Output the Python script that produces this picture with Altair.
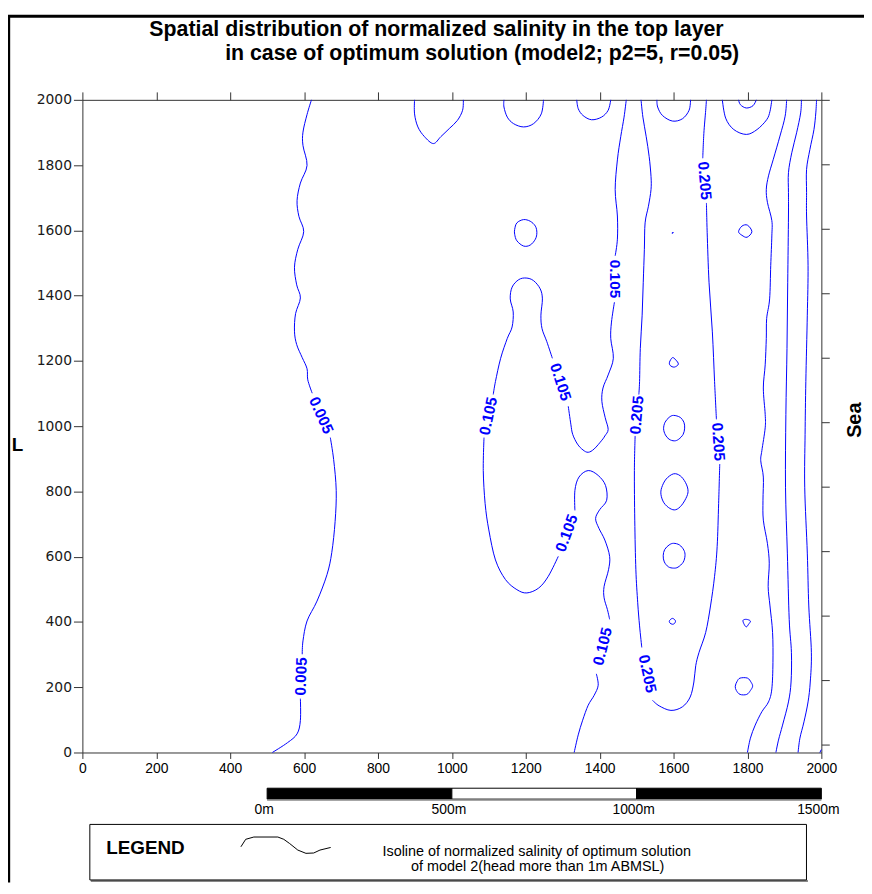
import altair as alt
import pandas as pd

# ---------------- axis ticks ----------------
x_ticks = [0, 200, 400, 600, 800, 1000, 1200, 1400, 1600, 1800, 2000]
y_ticks = [0, 200, 400, 600, 800, 1000, 1200, 1400, 1600, 1800, 2000]
right_ticks = [25, 223, 420, 618, 815, 1013, 1210, 1408, 1605, 1803, 2000]

# ---------------- isolines (open) ----------------
iso_0005_a = [(620, 2000), (608, 1955), (597, 1901), (597, 1860), (608, 1799), (590, 1745), (581, 1691),
              (586, 1643), (599, 1596), (583, 1542), (574, 1487), (580, 1433), (590, 1393), (577, 1345),
              (574, 1291), (580, 1250), (595, 1210), (608, 1176), (610, 1142), (622, 1101)]
iso_0005_b = [(671, 965), (680, 898), (687, 803), (684, 708), (675, 613), (662, 545), (635, 464),
              (608, 403), (597, 342), (595, 301)]
iso_0005_c = [(590, 165), (590, 98), (581, 57), (555, 30), (514, 0)]

iso_0105_a = [(1472, 2000), (1466, 1947), (1457, 1887), (1448, 1816), (1442, 1725), (1448, 1644),
              (1448, 1573), (1442, 1522)]
iso_0105_b = [(1440, 1380), (1432, 1319), (1430, 1269), (1437, 1208), (1423, 1157), (1409, 1117),
              (1406, 1076), (1415, 1026), (1423, 990), (1414, 970), (1406, 957), (1385, 930),
              (1369, 920), (1355, 927), (1340, 945), (1327, 975), (1322, 1006), (1315, 1061)]
iso_0105_c = [(1272, 1208), (1257, 1259), (1244, 1299), (1241, 1340), (1245, 1390), (1239, 1421),
              (1221, 1446), (1201, 1454), (1181, 1449), (1163, 1426), (1158, 1390), (1166, 1350),
              (1163, 1304), (1150, 1269), (1132, 1208), (1118, 1137), (1112, 1097)]
iso_0105_d = [(1087, 965), (1085, 864), (1090, 763), (1100, 682), (1118, 590), (1145, 530),
              (1176, 499), (1203, 489), (1235, 504), (1261, 540), (1288, 601)]
iso_0105_e = [(1333, 742), (1333, 803), (1344, 844), (1369, 864), (1396, 849), (1416, 818),
              (1419, 773), (1400, 744), (1389, 717), (1398, 687), (1414, 651), (1427, 601),
              (1424, 560), (1412, 509), (1412, 474), (1421, 438), (1427, 408)]
iso_0105_f = [(1391, 241), (1396, 206), (1385, 175), (1369, 145), (1354, 99), (1342, 54), (1331, 0)]

iso_0205_a = [(1512, 2000), (1517, 1947), (1526, 1887), (1534, 1826), (1539, 1765), (1539, 1725),
              (1532, 1674), (1523, 1623), (1521, 1542), (1518, 1441), (1515, 1340), (1510, 1238),
              (1508, 1137), (1506, 1097)]
iso_0205_b = [(1496, 970), (1494, 864), (1495, 712), (1498, 560), (1503, 459), (1508, 388), (1514, 322)]
iso_0205_c = [(1543, 160), (1561, 143), (1593, 129), (1624, 140), (1645, 170), (1655, 216),
              (1660, 266), (1669, 307), (1687, 368), (1700, 449), (1711, 540), (1718, 631),
              (1722, 763), (1725, 884)]
iso_0205_d = [(1716, 1021), (1711, 1137), (1705, 1289), (1696, 1441), (1691, 1593), (1689, 1684)]
iso_0205_e = [(1679, 1821), (1682, 1897), (1687, 1968), (1689, 2000)]

lobe_950 = [(899, 2000), (899, 1957), (908, 1917), (926, 1887), (950, 1866), (970, 1887),
            (993, 1912), (1015, 1937), (1029, 1968), (1031, 2000)]
lobe_1200 = [(1141, 2000), (1141, 1978), (1150, 1947), (1167, 1927), (1194, 1917), (1221, 1927),
             (1242, 1957), (1248, 2000)]
lobe_1400 = [(1338, 2000), (1342, 1973), (1355, 1952), (1378, 1939), (1405, 1947), (1423, 1968),
             (1430, 2000)]
lobe_1600 = [(1555, 2000), (1557, 1978), (1570, 1952), (1597, 1935), (1624, 1942), (1642, 1968),
             (1646, 2000)]
lobe_1800_small = [(1776, 2000), (1781, 1985), (1797, 1975), (1815, 1982), (1824, 2000)]
lobe_1800 = [(1732, 2000), (1741, 1944), (1763, 1909), (1797, 1894), (1826, 1909), (1852, 1939),
             (1861, 1965), (1866, 2000)]

east_1 = [(1906, 2000), (1902, 1950), (1888, 1889), (1870, 1818), (1857, 1767), (1851, 1726),
          (1854, 1686), (1866, 1630), (1866, 1583), (1863, 1492), (1860, 1390), (1852, 1330),
          (1851, 1269), (1848, 1188), (1843, 1117), (1848, 1036), (1848, 995), (1839, 925),
          (1836, 894), (1843, 844), (1842, 773), (1843, 712), (1854, 641), (1859, 580),
          (1856, 509), (1861, 449), (1868, 368), (1869, 276), (1866, 195), (1857, 155),
          (1839, 125), (1821, 84), (1808, 44), (1800, 0)]
east_2 = [(1946, 2000), (1944, 1960), (1933, 1899), (1920, 1838), (1911, 1777), (1911, 1716),
          (1911, 1644), (1909, 1441), (1907, 1238), (1904, 1036), (1903, 813), (1908, 611),
          (1913, 408), (1919, 307), (1918, 216), (1911, 155), (1895, 84), (1884, 38), (1877, 0)]
east_3 = [(1987, 2000), (1985, 1960), (1980, 1909), (1969, 1848), (1960, 1787), (1960, 1716),
          (1960, 1644), (1964, 1492), (1962, 1340), (1958, 1137), (1956, 975), (1955, 813),
          (1962, 611), (1966, 449), (1973, 307), (1970, 216), (1964, 155), (1953, 94),
          (1942, 44), (1937, 0)]
east_4 = [(1996, 0), (2000, 9)]

# ---------------- closed isolines (islands) ----------------
loop_1200 = [(1170, 1603), (1176, 1623), (1194, 1633), (1212, 1628), (1226, 1613), (1230, 1593),
             (1226, 1573), (1212, 1555), (1194, 1552), (1176, 1568), (1170, 1588)]
loop_dot = [(1596, 1591), (1598, 1595), (1599, 1592)]
loop_1800_hi = [(1776, 1596), (1785, 1613), (1800, 1616), (1812, 1596), (1799, 1579), (1785, 1585)]
loop_1600_1200 = [(1589, 1196), (1597, 1210), (1606, 1203), (1613, 1190), (1602, 1181), (1591, 1186)]
loop_1600_1000 = [(1600, 1033), (1618, 1027), (1628, 1012), (1630, 994), (1626, 975), (1614, 960),
                  (1602, 955), (1588, 960), (1578, 973), (1573, 992), (1577, 1012), (1588, 1027)]
loop_1600_800 = [(1600, 854), (1618, 848), (1632, 828), (1639, 805), (1636, 785), (1622, 758),
                 (1606, 744), (1590, 748), (1574, 765), (1566, 790), (1568, 812), (1580, 838)]
loop_1600_600 = [(1600, 641), (1616, 636), (1628, 620), (1631, 603), (1626, 583), (1612, 568),
                 (1600, 565), (1586, 569), (1575, 584), (1572, 603), (1576, 622), (1588, 636)]
loop_1600_400 = [(1597, 411), (1605, 404), (1603, 396), (1597, 393), (1590, 397), (1589, 404)]
loop_1800_400 = [(1788, 405), (1797, 408), (1808, 403), (1803, 393), (1797, 385), (1791, 393)]
loop_1800_200 = [(1780, 228), (1800, 228), (1810, 215), (1814, 203), (1808, 190), (1798, 178),
                 (1780, 178), (1770, 190), (1767, 203), (1772, 218)]

# ---------------- isoline labels ----------------
label_x = [646, 592, 1441, 1294, 1099, 1311, 1408, 1501, 1529, 1721, 1684]
label_y = [1033, 233, 1451, 1135, 1031, 672, 325, 1034, 241, 952, 1752]
label_angle = [66, 272, 90, 72, 282, 290, 284, 275, 78, 86, 85]
label_text = ["0.005", "0.005", "0.105", "0.105", "0.105", "0.105", "0.105",
              "0.205", "0.205", "0.205", "0.205"]

# ---------------- scale bar ----------------
bar_start = [500, 1000, 1500]
bar_end = [1000, 1500, 2000]
bar_fill = ["black", "white", "black"]
bar_label_x = [500, 1000, 1500, 2000]
bar_label_text = ["0m", "500m", "1000m", "1500m"]

# ---------------- legend sample line ----------------
glyph_x = [429, 442, 464, 529, 545, 561, 583, 605, 626, 643, 672]
glyph_y = [-289, -266, -259, -259, -266, -279, -299, -309, -308, -299, -291]

title_lines = ["Spatial distribution of normalized salinity in the top layer",
               "in case of optimum solution (model2; p2=5, r=0.05)"]
legend_lines = ["Isoline of normalized salinity of optimum solution",
                "of model 2(head more than 1m ABMSL)"]

open_lines = {
    "iso_0005_a": iso_0005_a, "iso_0005_b": iso_0005_b, "iso_0005_c": iso_0005_c,
    "iso_0105_a": iso_0105_a, "iso_0105_b": iso_0105_b, "iso_0105_c": iso_0105_c,
    "iso_0105_d": iso_0105_d, "iso_0105_e": iso_0105_e, "iso_0105_f": iso_0105_f,
    "iso_0205_a": iso_0205_a, "iso_0205_b": iso_0205_b, "iso_0205_c": iso_0205_c,
    "iso_0205_d": iso_0205_d, "iso_0205_e": iso_0205_e,
    "lobe_950": lobe_950, "lobe_1200": lobe_1200, "lobe_1400": lobe_1400, "lobe_1600": lobe_1600,
    "lobe_1800_small": lobe_1800_small, "lobe_1800": lobe_1800,
    "east_1": east_1, "east_2": east_2, "east_3": east_3, "east_4": east_4,
}
closed_lines = {
    "loop_1200": loop_1200, "loop_dot": loop_dot, "loop_1800_hi": loop_1800_hi,
    "loop_1600_1200": loop_1600_1200, "loop_1600_1000": loop_1600_1000,
    "loop_1600_800": loop_1600_800, "loop_1600_600": loop_1600_600,
    "loop_1600_400": loop_1600_400, "loop_1800_400": loop_1800_400,
    "loop_1800_200": loop_1800_200,
}


def to_frame(d):
    rows = []
    for name, pts in d.items():
        for k, (xv, yv) in enumerate(pts):
            rows.append({"seg": name, "i": k, "x": xv, "y": yv})
    return pd.DataFrame(rows)


df_open = to_frame(open_lines)
df_closed = to_frame(closed_lines)
df_labels = pd.DataFrame({"x": label_x, "y": label_y, "angle": label_angle, "text": label_text})
df_bar = pd.DataFrame({"x0": bar_start, "x1": bar_end, "fill": bar_fill})
df_bar_lab = pd.DataFrame({"x": bar_label_x, "text": bar_label_text})
df_glyph = pd.DataFrame({"x": glyph_x, "y": glyph_y, "i": list(range(len(glyph_x)))})

W, H = 745, 658
PAD = {"left": 75, "top": 89, "right": 43, "bottom": 131}
BLUE = "#0000ff"
AX = "#333333"

xsc = alt.Scale(domain=[0, 2000], nice=False, zero=False)
ysc = alt.Scale(domain=[0, 2000], nice=False, zero=False)

x_bottom = alt.Axis(orient="bottom", values=x_ticks, title=None, grid=False, tickSize=6, format="d",
                    labelFont="Liberation Sans", labelFontSize=14, labelColor="black",
                    labelPadding=3, labelFlush=False, labelOverlap=False,
                    domainColor=AX, tickColor=AX, domainWidth=1, tickWidth=1)
y_left = alt.Axis(orient="left", values=y_ticks, title=None, grid=False, tickSize=9, format="d",
                  labelFont="DejaVu Sans", labelFontSize=14, labelColor="#1a1a1a",
                  labelPadding=2, labelFlush=False, labelOverlap=False,
                  domainColor=AX, tickColor=AX, domainWidth=1, tickWidth=1)
x_top = alt.Axis(orient="top", values=x_ticks, title=None, grid=False, tickSize=8, labels=False,
                 domainColor=AX, tickColor=AX, domainWidth=1, tickWidth=1)
y_right = alt.Axis(orient="right", values=right_ticks, title=None, grid=False, tickSize=8,
                   labels=False, domainColor=AX, tickColor=AX, domainWidth=1, tickWidth=1)

lines = alt.Chart(df_open).mark_line(color=BLUE, strokeWidth=1, interpolate="cardinal").encode(
    x=alt.X("x:Q", scale=xsc, axis=x_bottom),
    y=alt.Y("y:Q", scale=ysc, axis=y_left),
    detail="seg:N",
    order="i:Q",
)

loops = alt.Chart(df_closed).mark_line(color=BLUE, strokeWidth=1, interpolate="cardinal-closed").encode(
    x=alt.X("x:Q", scale=xsc, axis=None),
    y=alt.Y("y:Q", scale=ysc, axis=None),
    detail="seg:N",
    order="i:Q",
)

axes2 = alt.Chart(pd.DataFrame({"x": [0], "y": [0]})).mark_point(opacity=0).encode(
    x=alt.X("x:Q", scale=xsc, axis=x_top),
    y=alt.Y("y:Q", scale=ysc, axis=y_right),
)

labels = alt.Chart(df_labels).mark_text(
    font="Liberation Sans", fontSize=15.5, fontWeight="bold", color=BLUE,
    align="center", baseline="middle").encode(
    x=alt.X("x:Q", scale=xsc, axis=None),
    y=alt.Y("y:Q", scale=ysc, axis=None),
    text="text:N",
    angle=alt.Angle("angle:Q", scale=None),
)

bar = alt.Chart(df_bar).mark_rect(stroke="black", strokeWidth=1).encode(
    x=alt.X("x0:Q", scale=xsc, axis=None),
    x2="x1:Q",
    y=alt.value(694),
    y2=alt.value(705),
    fill=alt.Fill("fill:N", scale=None),
)
bar_shadow = alt.Chart(df_bar).mark_rule(color="#888888", strokeWidth=1.5).encode(
    x=alt.X("x0:Q", scale=xsc, axis=None),
    x2="x1:Q",
    y=alt.value(706),
)
bar_lab = alt.Chart(df_bar_lab).mark_text(
    font="Liberation Sans", fontSize=14, color="black", align="center",
    baseline="alphabetic", dx=-3).encode(
    x=alt.X("x:Q", scale=xsc, axis=None),
    y=alt.value(720),
    text="text:N",
)

legend_shadow = alt.Chart(pd.DataFrame({"k": [0]})).mark_rule(color="#888888", strokeWidth=2).encode(
    x=alt.value(8.5), x2=alt.value(731.5), y=alt.value(787.5))
legend_box = alt.Chart(pd.DataFrame({"k": [0]})).mark_rect(
    fill="white", stroke="black", strokeWidth=1).encode(
    x=alt.value(7.5), x2=alt.value(730), y=alt.value(730.5), y2=alt.value(786.5))
legend_word = alt.Chart(pd.DataFrame({"t": ["LEGEND"]})).mark_text(
    font="Liberation Sans", fontSize=19, fontWeight="bold", color="black",
    align="left", baseline="alphabetic").encode(
    text="t:N", x=alt.value(24), y=alt.value(760))
legend_glyph = alt.Chart(df_glyph).mark_line(color="black", strokeWidth=1).encode(
    x=alt.X("x:Q", scale=xsc, axis=None),
    y=alt.Y("y:Q", scale=ysc, axis=None),
    order="i:Q",
)
legend_t1 = alt.Chart(pd.DataFrame({"t": [legend_lines[0]]})).mark_text(
    font="Liberation Sans", fontSize=14.5, color="black", align="center",
    baseline="alphabetic").encode(text="t:N", x=alt.value(458), y=alt.value(762))
legend_t2 = alt.Chart(pd.DataFrame({"t": [legend_lines[1]]})).mark_text(
    font="Liberation Sans", fontSize=14.5, color="black", align="center",
    baseline="alphabetic").encode(text="t:N", x=alt.value(459), y=alt.value(777.5))

title1 = alt.Chart(pd.DataFrame({"t": [title_lines[0]]})).mark_text(
    font="Liberation Sans", fontSize=21.5, fontWeight="bold", color="black",
    align="center", baseline="alphabetic").encode(text="t:N", x=alt.value(357), y=alt.value(-64.5))
title2 = alt.Chart(pd.DataFrame({"t": [title_lines[1]]})).mark_text(
    font="Liberation Sans", fontSize=21.5, fontWeight="bold", color="black",
    align="center", baseline="alphabetic").encode(text="t:N", x=alt.value(403), y=alt.value(-40.5))

l_title = alt.Chart(pd.DataFrame({"t": ["L"]})).mark_text(
    font="Liberation Sans", fontSize=19, fontWeight="bold", color="black",
    align="center", baseline="middle").encode(text="t:N", x=alt.value(-65.5), y=alt.value(348))
sea_title = alt.Chart(pd.DataFrame({"t": ["Sea"]})).mark_text(
    font="Liberation Sans", fontSize=20, fontWeight="bold", color="black",
    align="center", baseline="middle", angle=270).encode(
    text="t:N", x=alt.value(779), y=alt.value(323))

frame_left = alt.Chart(pd.DataFrame({"k": [0]})).mark_rule(color="black", strokeWidth=3).encode(
    x=alt.value(-74.3), y=alt.value(-85.5), y2=alt.value(H + PAD["bottom"]))
frame_top = alt.Chart(pd.DataFrame({"k": [0]})).mark_rule(color="black", strokeWidth=3).encode(
    x=alt.value(-75.5), x2=alt.value(W + PAD["right"]), y=alt.value(-84.2))

chart = alt.layer(
    frame_left, frame_top,
    lines, loops, axes2, labels,
    bar, bar_shadow, bar_lab,
    legend_shadow, legend_box, legend_word, legend_glyph, legend_t1, legend_t2,
    title1, title2, l_title, sea_title,
).resolve_axis(
    x="independent", y="independent"
).properties(
    width=W, height=H,
    autosize=alt.AutoSizeParams(type="none"),
    padding=PAD,
    background="white",
).configure_view(stroke=None)

chart.save("out.html", embed_options={"renderer": "svg", "actions": False})
